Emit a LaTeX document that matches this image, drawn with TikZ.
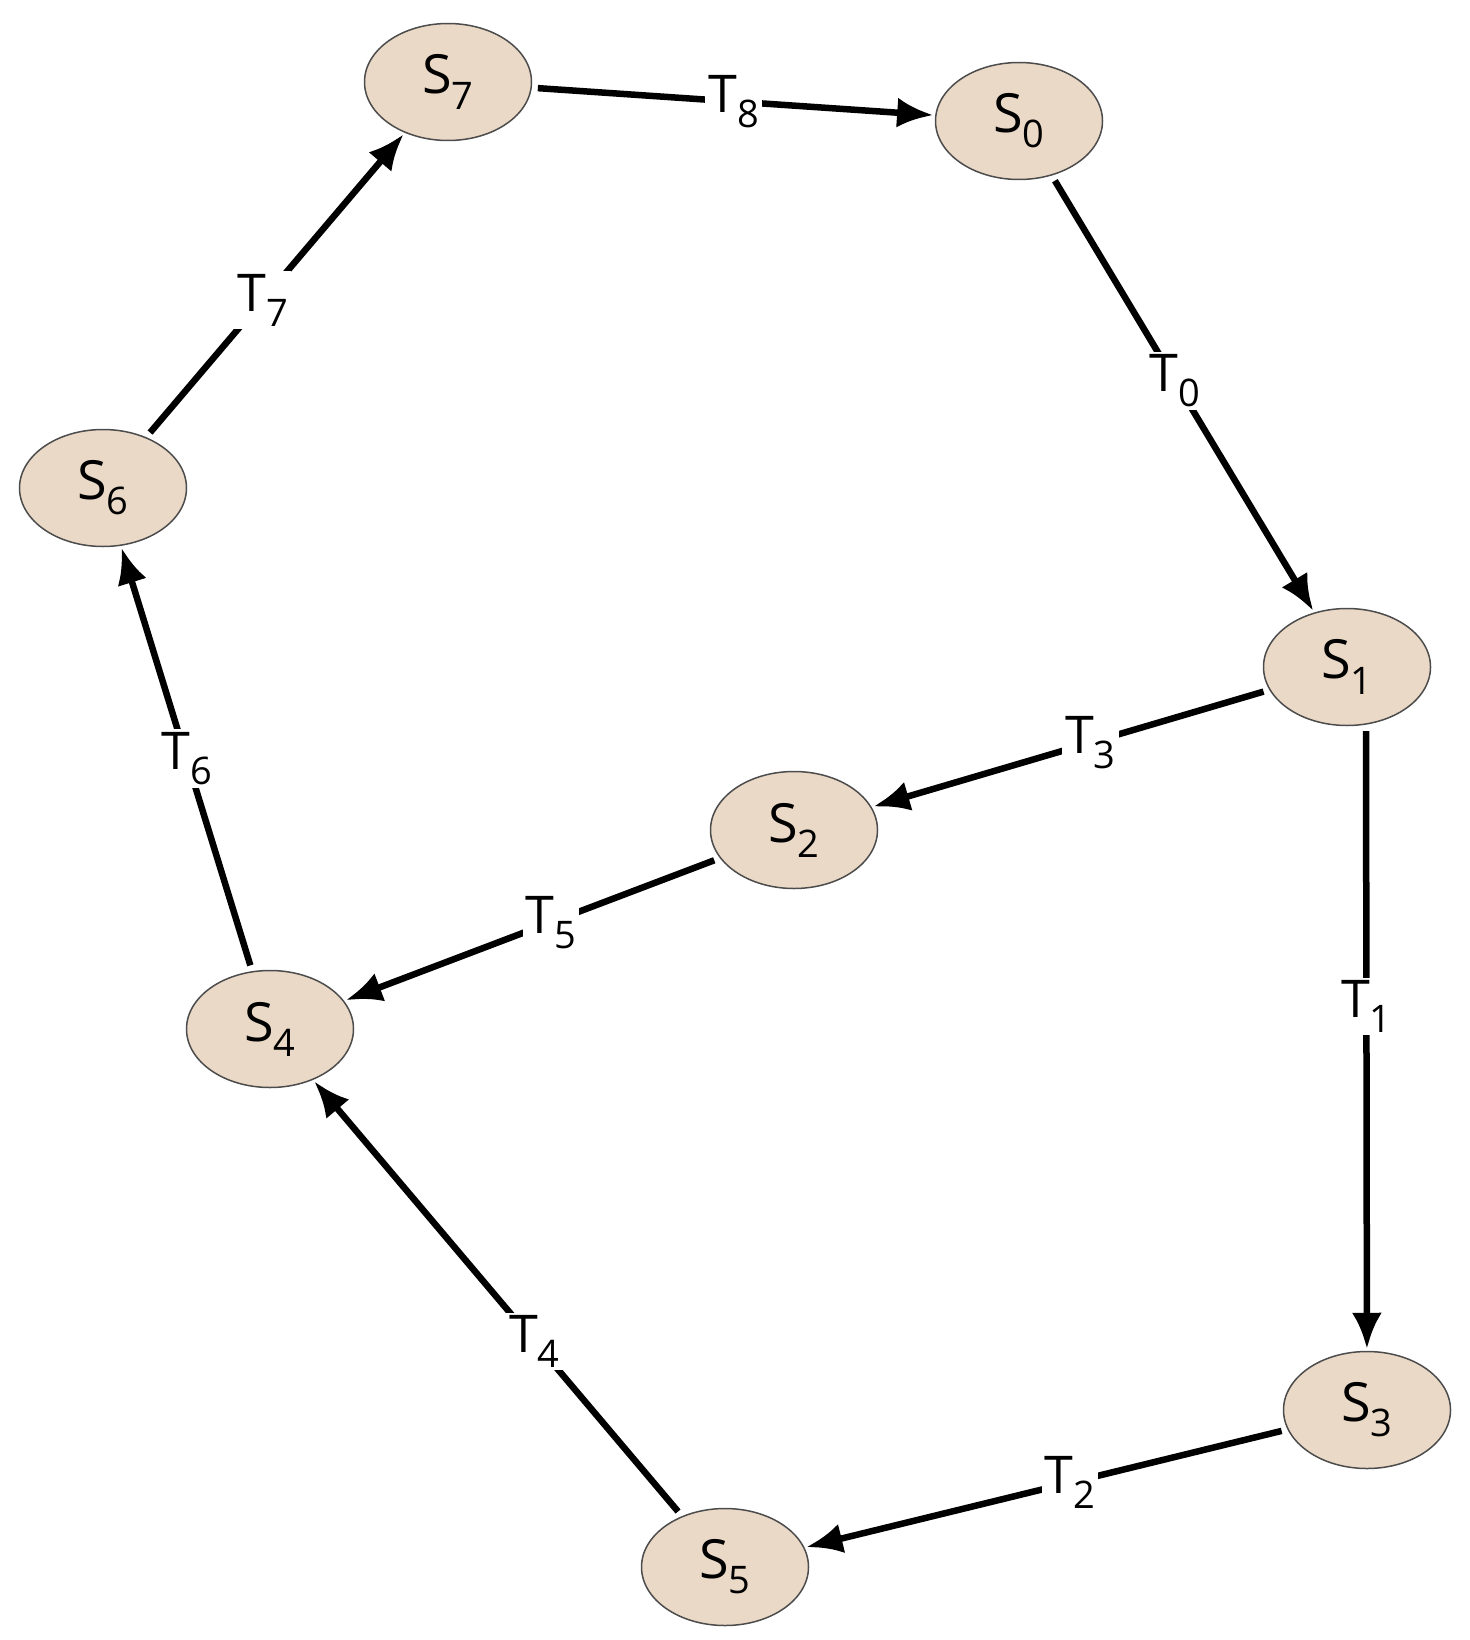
\documentclass[tikz,border=0pt]{standalone}
\usepackage{fontspec}
\setmainfont{Open Sans}
\usetikzlibrary{arrows.meta,shapes.geometric}
\definecolor{stfill}{HTML}{EAD9C6}
\newcommand{\sbs}[1]{\raisebox{-0.28em}{\fontsize{38}{38}\selectfont #1}}
\begin{document}
\begin{tikzpicture}[x=1pt,y=-1pt,
  st/.style={ellipse,draw=black!70,line width=1.5pt,fill=stfill,minimum width=167pt,minimum height=117pt,inner sep=0pt,font=\fontsize{54}{54}\selectfont},
  tr/.style={line width=6.5pt,-{Latex[length=36pt,width=30pt]},shorten >=2pt,shorten <=6pt},
  lb/.style={fill=white,inner sep=3pt,font=\fontsize{52}{52}\selectfont}]
\useasboundingbox (0,0) rectangle (1469,1640);
\node[st] (S7) at (448,82) {S\sbs{7}};
\node[st] (S0) at (1019,121) {S\sbs{0}};
\node[st] (S6) at (103,488) {S\sbs{6}};
\node[st] (S1) at (1347,667) {S\sbs{1}};
\node[st] (S2) at (794,830) {S\sbs{2}};
\node[st] (S4) at (270,1029) {S\sbs{4}};
\node[st] (S3) at (1367,1410) {S\sbs{3}};
\node[st] (S5) at (725,1567) {S\sbs{5}};
\coordinate (S1b) at (1366,725);
\draw[tr] (S7) -- (S0) node[lb,pos=0.5] (T8) {T\sbs{8}};
\draw[tr] (S6) -- (S7) node[lb,pos=0.45] (T7) {T\sbs{7}};
\draw[tr] (S0) -- (S1) node[lb,pos=0.47] (T0) {T\sbs{0}};
\draw[tr] (S1) -- (S2) node[lb,pos=0.45] (T3) {T\sbs{3}};
\draw[tr] (S4) -- (S6) node[lb,pos=0.5] (T6) {T\sbs{6}};
\draw[tr] (S2) -- (S4) node[lb,pos=0.45] (T5) {T\sbs{5}};
\draw[tr] (S1b) -- (S3) node[lb,pos=0.45] (T1) {T\sbs{1}};
\draw[tr] (S5) -- (S4) node[lb,pos=0.4] (T4) {T\sbs{4}};
\draw[tr] (S3) -- (S5) node[lb,pos=0.45] (T2) {T\sbs{2}};
\end{tikzpicture}
\end{document}
